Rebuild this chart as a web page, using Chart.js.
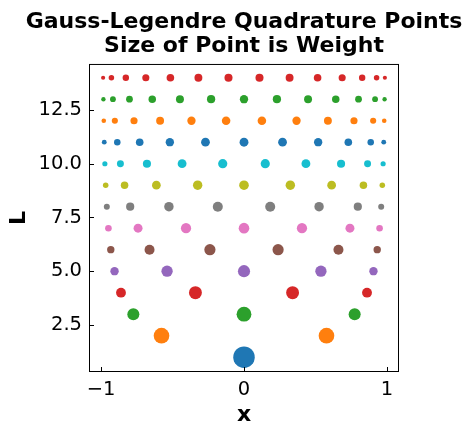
<!DOCTYPE html>
<html>
<head>
<meta charset="utf-8">
<script src="https://cdn.jsdelivr.net/npm/chart.js@4"></script>
<style>
  html, body { margin: 0; padding: 0; background: #fff; }
  #wrap { width: 474px; height: 435px; }
</style>
</head>
<body>
<div id="wrap"><canvas id="gaussChart"></canvas></div>
<script>
// Gauss-Legendre nodes (x) and weights for L = 1..14
const L1x  = [0.0];
const L1w  = [2.0];
const L2x  = [-0.5774, 0.5774];
const L2w  = [1.0, 1.0];
const L3x  = [-0.7746, 0.0, 0.7746];
const L3w  = [0.5556, 0.8889, 0.5556];
const L4x  = [-0.8611, -0.3400, 0.3400, 0.8611];
const L4w  = [0.3479, 0.6521, 0.6521, 0.3479];
const L5x  = [-0.9062, -0.5385, 0.0, 0.5385, 0.9062];
const L5w  = [0.2369, 0.4786, 0.5689, 0.4786, 0.2369];
const L6x  = [-0.9325, -0.6612, -0.2386, 0.2386, 0.6612, 0.9325];
const L6w  = [0.1713, 0.3608, 0.4679, 0.4679, 0.3608, 0.1713];
const L7x  = [-0.9491, -0.7416, -0.4058, 0.0, 0.4058, 0.7416, 0.9491];
const L7w  = [0.1295, 0.2797, 0.3819, 0.4180, 0.3819, 0.2797, 0.1295];
const L8x  = [-0.9603, -0.7967, -0.5255, -0.1834, 0.1834, 0.5255, 0.7967, 0.9603];
const L8w  = [0.1012, 0.2224, 0.3138, 0.3627, 0.3627, 0.3138, 0.2224, 0.1012];
const L9x  = [-0.9682, -0.8360, -0.6134, -0.3243, 0.0, 0.3243, 0.6134, 0.8360, 0.9682];
const L9w  = [0.0813, 0.1807, 0.2606, 0.3123, 0.3302, 0.3123, 0.2606, 0.1807, 0.0813];
const L10x = [-0.9739, -0.8651, -0.6794, -0.4334, -0.1489, 0.1489, 0.4334, 0.6794, 0.8651, 0.9739];
const L10w = [0.0667, 0.1495, 0.2191, 0.2693, 0.2955, 0.2955, 0.2693, 0.2191, 0.1495, 0.0667];
const L11x = [-0.9782, -0.8871, -0.7302, -0.5191, -0.2697, 0.0, 0.2697, 0.5191, 0.7302, 0.8871, 0.9782];
const L11w = [0.0557, 0.1256, 0.1863, 0.2331, 0.2628, 0.2729, 0.2628, 0.2331, 0.1863, 0.1256, 0.0557];
const L12x = [-0.9816, -0.9041, -0.7699, -0.5873, -0.3678, -0.1253, 0.1253, 0.3678, 0.5873, 0.7699, 0.9041, 0.9816];
const L12w = [0.0472, 0.1069, 0.1601, 0.2032, 0.2335, 0.2491, 0.2491, 0.2335, 0.2032, 0.1601, 0.1069, 0.0472];
const L13x = [-0.9841, -0.9175, -0.8016, -0.6423, -0.4484, -0.2304, 0.0, 0.2304, 0.4484, 0.6423, 0.8016, 0.9175, 0.9841];
const L13w = [0.0405, 0.0926, 0.1388, 0.1781, 0.2078, 0.2260, 0.2325, 0.2260, 0.2078, 0.1781, 0.1388, 0.0926, 0.0405];
const L14x = [-0.9862, -0.9281, -0.8272, -0.6872, -0.5152, -0.3191, -0.1085, 0.1085, 0.3191, 0.5152, 0.6872, 0.8272, 0.9281, 0.9862];
const L14w = [0.0352, 0.0801, 0.1216, 0.1572, 0.1855, 0.2051, 0.2152, 0.2152, 0.2051, 0.1855, 0.1572, 0.1216, 0.0801, 0.0352];

const nodeRows = [L1x, L2x, L3x, L4x, L5x, L6x, L7x, L8x, L9x, L10x, L11x, L12x, L13x, L14x];
const weightRows = [L1w, L2w, L3w, L4w, L5w, L6w, L7w, L8w, L9w, L10w, L11w, L12w, L13w, L14w];

const xTicks = [-1, 0, 1];
const yTicks = [2.5, 5.0, 7.5, 10.0, 12.5];

const tab10 = ['#1f77b4', '#ff7f0e', '#2ca02c', '#d62728', '#9467bd',
               '#8c564b', '#e377c2', '#7f7f7f', '#bcbd22', '#17becf'];

// marker area ~ weight (like matplotlib s = 200*w, plus edge)
const radiusOf = ctx => (Math.sqrt(200 * ctx.raw.w) + 1.5) / 2;

const datasets = nodeRows.map((xs, i) => ({
    label: 'L=' + (i + 1),
    data: xs.map((x, j) => ({ x: x, y: i + 1, w: weightRows[i][j] })),
    backgroundColor: tab10[i % 10],
    borderWidth: 0,
    pointRadius: radiusOf,
    pointHoverRadius: radiusOf
}));

// frame + inward tick marks
const framePlugin = {
    id: 'frame',
    afterDraw(chart) {
        const { ctx, chartArea: a, scales } = chart;
        ctx.save();
        ctx.strokeStyle = '#000';
        ctx.lineWidth = 1;
        ctx.strokeRect(a.left + 0.5, a.top + 0.5, a.right - a.left - 1, a.bottom - a.top - 1);
        ctx.beginPath();
        xTicks.forEach(v => {
            const px = Math.round(scales.x.getPixelForValue(v)) + 0.5;
            ctx.moveTo(px, a.bottom);
            ctx.lineTo(px, a.bottom - 5);
        });
        yTicks.forEach(v => {
            const py = Math.round(scales.y.getPixelForValue(v)) + 0.5;
            ctx.moveTo(a.left, py);
            ctx.lineTo(a.left + 5, py);
        });
        ctx.stroke();
        ctx.restore();
    }
};

const ctx = document.getElementById('gaussChart').getContext('2d');
const chart = new Chart(ctx, {
    type: 'scatter',
    data: { datasets: datasets },
    options: {
        responsive: true,
        maintainAspectRatio: false,
        animation: false,
        layout: { padding: { left: 14, right: 0, top: 0, bottom: 0 } },
        plugins: {
            legend: { display: false },
            tooltip: { enabled: false },
            title: {
                display: true,
                text: ['Gauss-Legendre Quadrature Points', 'Size of Point is Weight'],
                color: '#000',
                font: { family: 'DejaVu Sans', size: 22, weight: 'bold', lineHeight: 1.09 },
                padding: { top: 10.2, bottom: 5.8 }
            }
        },
        scales: {
            x: {
                type: 'linear',
                min: -1.085,
                max: 1.085,
                afterBuildTicks: s => { s.ticks = xTicks.map(v => ({ value: v })); },
                afterFit: s => { s.height = 63; },
                grid: { display: false, drawTicks: false },
                border: { display: false },
                ticks: {
                    color: '#000',
                    padding: 6,
                    font: { family: 'DejaVu Sans', size: 19.5 },
                    callback: v => (v < 0 ? '\u2212' + Math.abs(v) : String(v))
                },
                title: {
                    display: true,
                    text: 'x',
                    color: '#000',
                    font: { family: 'DejaVu Sans', size: 22, weight: 'bold' },
                    padding: { top: 0, bottom: 7 }
                }
            },
            y: {
                type: 'linear',
                min: 0.31,
                max: 14.64,
                afterBuildTicks: s => { s.ticks = yTicks.map(v => ({ value: v })); },
                afterFit: s => { s.width = 75; },
                grid: { display: false, drawTicks: false },
                border: { display: false },
                ticks: {
                    color: '#000',
                    padding: 7,
                    font: { family: 'DejaVu Sans', size: 19.5 },
                    callback: v => v.toFixed(1)
                },
                title: {
                    display: true,
                    text: 'L',
                    color: '#000',
                    font: { family: 'DejaVu Sans', size: 22, weight: 'bold', lineHeight: 0.44 },
                    padding: { top: 0, bottom: 0 }
                }
            },
            // empty right-hand axis, only reserves the space right of the plot
            yRight: {
                type: 'linear',
                position: 'right',
                min: 0.31,
                max: 14.64,
                afterFit: s => { s.width = 75; },
                grid: { display: false, drawTicks: false },
                border: { display: false },
                ticks: { display: false }
            }
        }
    },
    plugins: [framePlugin]
});
</script>
</body>
</html>
